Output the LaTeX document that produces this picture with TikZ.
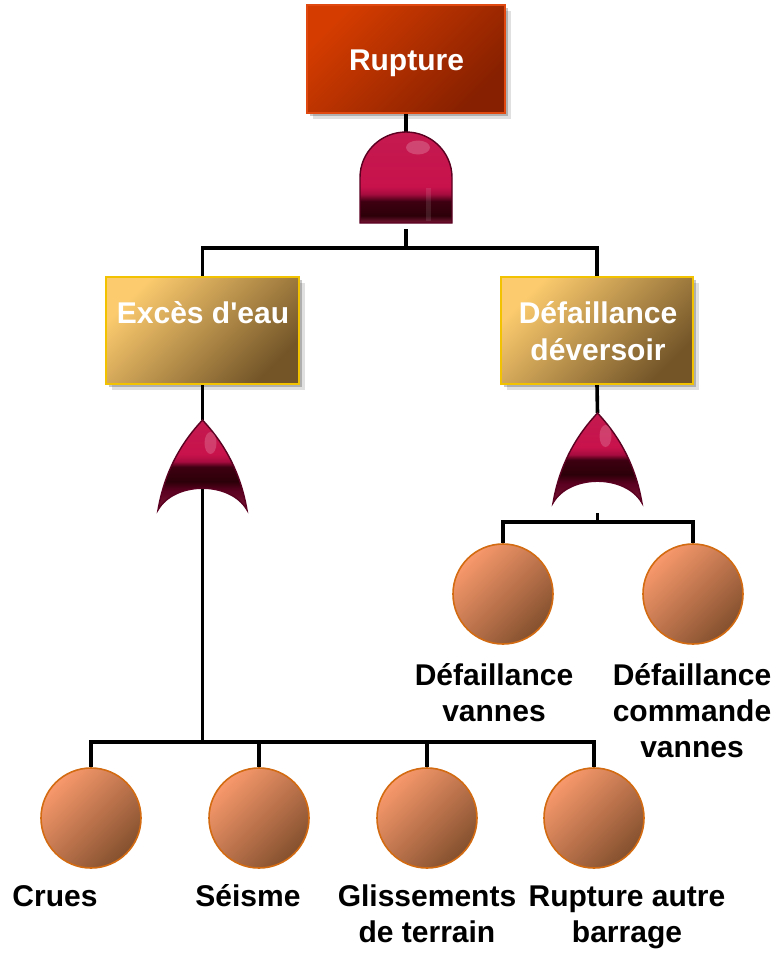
\documentclass[tikz,border=0pt]{standalone}
\usepackage{fontspec}
\setmainfont{Liberation Sans}
\usetikzlibrary{shadows,calc}

% palette
\definecolor{topA}{HTML}{D43C00}
\definecolor{topB}{HTML}{862000}
\definecolor{topEdge}{HTML}{E04A10}
\definecolor{goldA}{HTML}{FCCB6E}
\definecolor{goldB}{HTML}{735528}
\definecolor{goldEdge}{HTML}{F2C200}
\definecolor{evA}{HTML}{F8996C}
\definecolor{evB}{HTML}{84502E}
\definecolor{evEdge}{HTML}{D26B12}
\definecolor{gBase}{HTML}{7A1636}
\definecolor{gDark}{HTML}{2C0008}
\definecolor{gBand}{HTML}{3E0012}
\definecolor{gMid}{HTML}{A80C40}
\definecolor{gRed}{HTML}{C8124C}
\definecolor{gTop}{HTML}{C41A50}
\definecolor{gEdge}{HTML}{5A0020}

% gate body gradients (path spans 25bp..75bp)
\pgfdeclareverticalshading{andbody}{100bp}{%
  color(0bp)=(gBase); color(25bp)=(gBase); color(29bp)=(gDark);
  color(37bp)=(gBand); color(41bp)=(gMid); color(45bp)=(gRed);
  color(75bp)=(gTop); color(100bp)=(gTop)}
\pgfdeclareverticalshading{orbody}{100bp}{%
  color(0bp)=(gBase); color(25bp)=(gBase); color(36bp)=(gEdge);
  color(41bp)=(gDark); color(49bp)=(gBand); color(52bp)=(gMid);
  color(56bp)=(gRed); color(75bp)=(gTop); color(100bp)=(gTop)}

\pgfdeclarelayer{background}
\pgfsetlayers{background,main}

\tikzset{
  wire/.style={line width=3.6pt, black},
  softshadow/.style={
    drop shadow={shadow xshift=3pt, shadow yshift=-3pt, opacity=0.22, fill=black},
    drop shadow={shadow xshift=6pt, shadow yshift=-6pt, opacity=0.12, fill=black}},
  topbox/.style={rectangle, inner sep=0pt, minimum width=198pt, minimum height=108pt,
    draw=topEdge, line width=1.2pt, softshadow,
    top color=topA, bottom color=topB, shading angle=45},
  goldbox/.style={rectangle, inner sep=0pt, minimum width=193pt, minimum height=107pt,
    draw=goldEdge, line width=1.4pt, softshadow,
    top color=goldA, bottom color=goldB, shading angle=45},
  event/.style={circle, inner sep=0pt, minimum size=100pt,
    draw=evEdge, line width=1.6pt,
    top color=evA, bottom color=evB, shading angle=45},
  gatebox/.style={rectangle, inner sep=0pt, draw=none},
  boxtext/.style={text=white, font=\bfseries\fontsize{30}{37}\selectfont,
    align=center, inner sep=0pt, anchor=base},
  evtext/.style={text=black, font=\bfseries\fontsize{30}{36}\selectfont,
    align=center, inner sep=0pt, anchor=base},
  andshape/.pic={
    \shade[shading=andbody, draw=gEdge, line width=1.4pt]
      (-46,-45.5) -- (-46,0) arc[start angle=180, end angle=0,
      x radius=46, y radius=45.5] -- (46,-45.5) -- cycle;
    \fill[white, opacity=0.2] (12,30) ellipse[x radius=12, y radius=7];
    \fill[white, opacity=0.1] (20,-43) rectangle (25,-10);
  },
  orshape/.pic={
    \shade[shading=orbody, draw=gEdge, line width=1.4pt]
      (0,45) .. controls (-11,33) and (-36,5) .. (-44.5,-45)
      .. controls (-28,-16) and (28,-16) .. (44.5,-45)
      .. controls (36,5) and (11,33) .. (0,45) -- cycle;
    \fill[white, opacity=0.18] (8,22) ellipse[x radius=6, y radius=11];
  }
}

\begin{document}
\begin{tikzpicture}[x=1pt, y=1pt]
  \useasboundingbox (0,0) rectangle (779,-954);

  % top event and its AND gate
  \node[topbox] (top) at (406,-59) {};
  \node[boxtext] (toptext) at (406.5,-70) {Rupture};
  \node[gatebox, minimum width=93pt, minimum height=91pt] (g0) at (406,-177.5) {};
  \pic at (g0.center) {andshape};

  % intermediate events (multi-line labels are placed by their last baseline)
  \node[goldbox] (exc) at (202.5,-330.5) {};
  \node[boxtext] (exctext) at (203,-323) {Excès d\textquotesingle eau};
  \node[goldbox, minimum width=192pt] (def) at (597,-330.5) {};
  \node[boxtext] (deftext) at (598,-360) {Défaillance\\déversoir};

  % OR gates
  \node[gatebox, minimum width=89pt, minimum height=90pt] (g1) at (202.5,-465) {};
  \pic at (g1.center) {orshape};
  \node[gatebox, minimum width=89pt, minimum height=90pt] (g2) at (597.5,-458) {};
  \pic at (g2.center) {orshape};

  % basic events under the spillway failure
  \node[event] (d1) at (503,-594) {};
  \node[event] (d2) at (693,-594) {};
  \node[evtext] (d1text) at (494,-721) {Défaillance\\vannes};
  \node[evtext] (d2text) at (692,-757) {Défaillance\\commande\\vannes};

  % basic events under the excess of water
  \node[event] (e1) at (91,-818) {};
  \node[event] (e2) at (259,-818) {};
  \node[event] (e3) at (427,-818) {};
  \node[event] (e4) at (594,-818) {};
  \node[evtext] (e1text) at (55,-906) {Crues};
  \node[evtext] (e2text) at (248,-906) {Séisme};
  \node[evtext] (e3text) at (427,-942) {Glissements\\de terrain};
  \node[evtext] (e4text) at (627,-942) {Rupture autre\\barrage};

  % junction points of the tree
  \coordinate (j0) at (406,-248);
  \coordinate (j1) at (202.5,-742);
  \coordinate (j2) at (597.5,-522);

  % wiring, kept behind the shapes
  \begin{pgfonlayer}{background}
    \draw[wire] (top.south) -- (g0.north);
    \draw[wire, shorten <=6pt] (g0.south) -- (j0);
    \draw[wire] (exc.north) |- (j0) -| (def.north);
    \draw[wire] (exc.south) -- (g1.north);
    \draw[wire] (g1.center) -- (j1);
    \draw[wire] (e1.north) |- (j1) -| (e4.north);
    \draw[wire] (e2.north) -- (e2.north |- j1);
    \draw[wire] (e3.north) -- (e3.north |- j1);
    \draw[wire] (def.south) -- (g2.north);
    \draw[wire, shorten <=10pt] (g2.south) -- (j2);
    \draw[wire] (d1.north) |- (j2) -| (d2.north);
  \end{pgfonlayer}
\end{tikzpicture}
\end{document}
